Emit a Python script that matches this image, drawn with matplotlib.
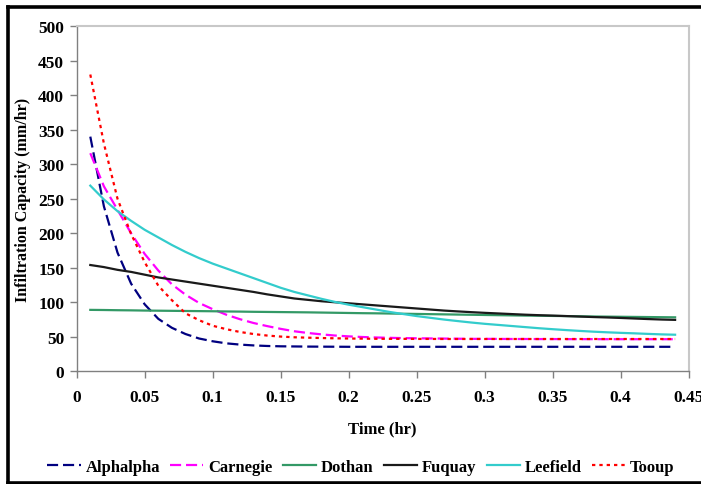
import matplotlib
matplotlib.use("Agg")
import matplotlib.pyplot as plt
from matplotlib.lines import Line2D

plt.rcParams['font.family'] = ['Liberation Serif', 'DejaVu Serif']
plt.rcParams['font.weight'] = 'bold'

time_hr = [0.01, 0.02, 0.03, 0.04, 0.05, 0.06, 0.07, 0.08, 0.09, 0.10,
           0.11, 0.12, 0.13, 0.14, 0.15, 0.16, 0.17, 0.18, 0.19, 0.20,
           0.21, 0.22, 0.23, 0.24, 0.25, 0.26, 0.27, 0.28, 0.29, 0.30,
           0.31, 0.32, 0.33, 0.34, 0.35, 0.36, 0.37, 0.38, 0.39, 0.40,
           0.41, 0.42, 0.43, 0.44]

alphalpha = [340, 239, 172, 127, 97, 76, 63, 54, 47.5, 43.5,
             40.5, 38.7, 37.5, 36.7, 36.2, 36, 35.8, 35.7, 35.6, 35.5,
             35.5, 35.5, 35.5, 35.5, 35.5, 35.5, 35.5, 35.5, 35.5, 35.5,
             35.5, 35.5, 35.5, 35.5, 35.5, 35.5, 35.5, 35.5, 35.5, 35.5,
             35.5, 35.5, 35.5, 35.5]

carnegie = [316, 268, 234, 200, 170, 146, 126, 111, 99, 90,
            82, 75.5, 70, 65.5, 61.5, 58, 55.5, 53.5, 51.8, 50.6,
            49.7, 49, 48.5, 48.1, 47.8, 47.6, 47.4, 47.2, 47, 47,
            46.9, 46.8, 46.8, 46.7, 46.7, 46.6, 46.6, 46.6, 46.5, 46.5,
            46.5, 46.5, 46.5, 46.5]

dothan = [89, 88.8, 88.5, 88.3, 88, 87.8, 87.6, 87.4, 87.2, 87,
          86.7, 86.5, 86.2, 86, 85.8, 85.6, 85.4, 85.1, 84.8, 84.5,
          84.2, 84, 83.7, 83.4, 83.1, 82.8, 82.5, 82.2, 81.9, 81.6,
          81.3, 81, 80.7, 80.5, 80.2, 80, 79.7, 79.4, 79.2, 79,
          78.8, 78.6, 78.4, 78.2]

fuquay = [154, 151, 147, 144, 140, 136, 133, 130, 127, 124,
          121, 118, 115, 111.5, 108.5, 105.5, 103.5, 101.5, 100, 98.5,
          97, 95.5, 94, 92.5, 91, 89.5, 88, 86.8, 85.7, 84.7,
          83.8, 82.9, 82, 81.3, 80.7, 80, 79.3, 78.6, 78, 77.3,
          76.5, 75.7, 75, 74.5]

leefield = [269, 249, 232, 218, 205, 194, 183, 173, 164, 156,
            149, 142, 135, 128, 121, 115, 110, 105, 100.5, 96.5,
            93, 89.5, 86, 83, 80, 77.5, 75, 72.8, 70.7, 68.8,
            67.2, 65.6, 64, 62.4, 61, 59.7, 58.5, 57.4, 56.5, 55.7,
            55, 54.2, 53.5, 53]

tooup = [430, 330, 250, 199, 158, 124, 103, 84, 74, 66,
         61, 57, 54, 51.8, 50.3, 49.3, 48.7, 48.2, 47.8, 47.5,
         47.3, 47.1, 47, 47, 46.9, 46.9, 46.8, 46.8, 46.8, 46.8,
         46.8, 46.8, 46.8, 46.8, 46.8, 46.8, 46.8, 46.8, 46.8, 46.8,
         46.8, 46.8, 46.8, 46.8]

series_names = ['Alphalpha', 'Carnegie', 'Dothan', 'Fuquay', 'Leefield', 'Tooup']
x_ticks = [0, 0.05, 0.1, 0.15, 0.2, 0.25, 0.3, 0.35, 0.4, 0.45]
x_tick_labels = ['0', '0.05', '0.1', '0.15', '0.2', '0.25', '0.3', '0.35', '0.4', '0.45']
y_ticks = [0, 50, 100, 150, 200, 250, 300, 350, 400, 450, 500]

W, H = 701, 485
fig = plt.figure(figsize=(W / 100, H / 100), dpi=100)
fig.patch.set_facecolor('white')
ax = fig.add_axes([76.7 / W, 1 - 372.3 / H, (688.7 - 76.7) / W, (372.3 - 27.2) / H])

lw = 1.6
styles = [
    dict(color='#000080', linestyle=(0, (5, 2.2))),
    dict(color='#FF00FF', linestyle=(0, (5, 2.2))),
    dict(color='#339966', linestyle='-'),
    dict(color='#1a1a1a', linestyle='-'),
    dict(color='#33CCCC', linestyle='-'),
    dict(color='#FF0000', linestyle=(0, (1.5, 1.8))),
]
data = [alphalpha, carnegie, dothan, fuquay, leefield, tooup]
for name, vals, st in zip(series_names, data, styles):
    ax.plot(time_hr, vals, lw=lw, label=name, **st)

ax.set_xlim(0, 0.45)
ax.set_ylim(0, 500)
ax.set_xticks(x_ticks)
ax.set_xticklabels(x_tick_labels)
ax.set_yticks(y_ticks)

for s in ['left', 'bottom']:
    ax.spines[s].set_color('#808080')
    ax.spines[s].set_linewidth(1.0)
for s in ['top', 'right']:
    ax.spines[s].set_color('#c8c8c8')
    ax.spines[s].set_linewidth(1.5)

ax.tick_params(axis='both', direction='out', length=5, width=1.0, color='#808080',
               labelsize=12.5)
ax.tick_params(axis='x', pad=8)
ax.tick_params(axis='y', pad=4)
for lab in ax.get_xticklabels() + ax.get_yticklabels():
    lab.set_fontweight('bold')

ax.set_xlabel('Time (hr)', fontsize=12, fontweight='bold', labelpad=11)
ax.set_ylabel('Infiltration Capacity (mm/hr)', fontsize=11.5, fontweight='bold', labelpad=5)

leg = fig.legend(loc='center', bbox_to_anchor=(361 / W, 1 - 468 / H), ncol=6, frameon=False,
                 prop={'weight': 'bold', 'size': 12}, handlelength=2.0, handletextpad=0.3,
                 columnspacing=0.6)

# outer black frame (top, left, bottom only; right side runs off the image)
fw = 2.6
fig.add_artist(Line2D([7.5 / W, 1.02], [1 - 7.5 / H, 1 - 7.5 / H], transform=fig.transFigure,
                      color='black', lw=fw, solid_capstyle='projecting'))
fig.add_artist(Line2D([7.5 / W, 7.5 / W], [1 - 7.5 / H, 1 - 483.5 / H], transform=fig.transFigure,
                      color='black', lw=fw, solid_capstyle='projecting'))
fig.add_artist(Line2D([7.5 / W, 1.02], [1 - 483.5 / H, 1 - 483.5 / H], transform=fig.transFigure,
                      color='black', lw=fw, solid_capstyle='projecting'))

fig.savefig('out.png', dpi=100)
